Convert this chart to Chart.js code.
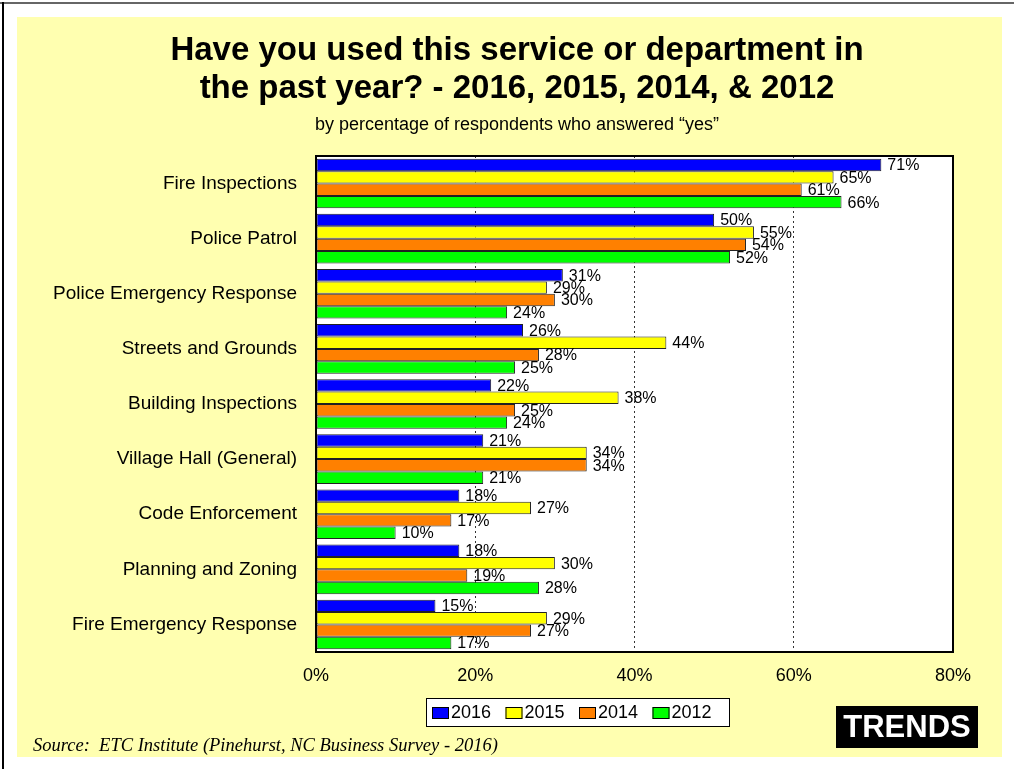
<!DOCTYPE html>
<html>
<head>
<meta charset="utf-8">
<title>Service usage by year</title>
<script src="https://cdn.jsdelivr.net/npm/chart.js@4/dist/chart.umd.min.js"></script>
<style>
  html, body { margin: 0; padding: 0; background: #ffffff; }
  canvas { display: block; }
</style>
</head>
<body>
<canvas id="chart" width="1014" height="769"></canvas>
<script>
// Survey categories (top to bottom)
const categories = [
  "Fire Inspections",
  "Police Patrol",
  "Police Emergency Response",
  "Streets and Grounds",
  "Building Inspections",
  "Village Hall (General)",
  "Code Enforcement",
  "Planning and Zoning",
  "Fire Emergency Response"
];

// Percent of respondents who answered "yes", per survey year
const years = ["2016", "2015", "2014", "2012"];
const values2016 = [71, 50, 31, 26, 22, 21, 18, 18, 15];
const values2015 = [65, 55, 29, 44, 38, 34, 27, 30, 29];
const values2014 = [61, 54, 30, 28, 25, 34, 17, 19, 27];
const values2012 = [66, 52, 24, 25, 24, 21, 10, 28, 17];

// Axis ticks
const xTicks = [0, 20, 40, 60, 80];

const seriesColors = ["#0000FF", "#FFFF00", "#FF8000", "#00FF00"];

const titleLines = [
  "Have you used this service or department in",
  "the past year? - 2016, 2015, 2014, & 2012"
];
const subtitleText = "by percentage of respondents who answered \u201Cyes\u201D";
const sourceText = "Source:  ETC Institute (Pinehurst, NC Business Survey - 2016)";
const badgeText = "TRENDS";

const SANS = "'Liberation Sans', Arial, sans-serif";
const SERIF = "'Liberation Serif', 'Times New Roman', serif";

// Page frame, panel, headings, plot box, value labels, legend, badge and source line
const decorations = {
  id: "decorations",
  beforeDraw(chart) {
    const c = chart.ctx;
    c.save();
    c.fillStyle = "#ffffff";
    c.fillRect(0, 0, chart.width, chart.height);
    // outer frame (top and left edges)
    c.fillStyle = "#666666";
    c.fillRect(0, 2, chart.width, 2);
    c.fillStyle = "#000000";
    c.fillRect(2, 2, 2, chart.height);
    // yellow panel
    c.fillStyle = "#FFFFB0";
    c.fillRect(17, 17, 985, 740);
    // plot area background
    const a = chart.chartArea;
    c.fillStyle = "#ffffff";
    c.fillRect(a.left, a.top, a.right - a.left, a.bottom - a.top);
    // title
    c.fillStyle = "#000000";
    c.textAlign = "center";
    c.textBaseline = "middle";
    c.font = "bold 33px " + SANS;
    c.fillText(titleLines[0], 517, 51);
    c.fillText(titleLines[1], 517, 89);
    c.font = "18px " + SANS;
    c.fillText(subtitleText, 517, 125);
    c.restore();
  },
  afterDraw(chart) {
    const c = chart.ctx;
    const a = chart.chartArea;
    c.save();
    // plot border
    c.strokeStyle = "#000000";
    c.lineWidth = 2;
    c.strokeRect(a.left, a.top, a.right - a.left, a.bottom - a.top);

    // value labels at the bar ends
    c.fillStyle = "#000000";
    c.font = "16px " + SANS;
    c.textAlign = "left";
    c.textBaseline = "middle";
    chart.data.datasets.forEach((ds, di) => {
      const meta = chart.getDatasetMeta(di);
      meta.data.forEach((bar, i) => {
        c.fillText(ds.data[i] + "%", bar.x + 6, bar.y + 1);
      });
    });

    // legend box
    const lx = 426, ly = 698, lw = 303, lh = 28;
    c.fillStyle = "#ffffff";
    c.fillRect(lx, ly, lw, lh);
    c.strokeStyle = "#000000";
    c.lineWidth = 1;
    c.strokeRect(lx + 0.5, ly + 0.5, lw, lh);
    c.font = "18px " + SANS;
    chart.data.datasets.forEach((ds, di) => {
      const x0 = lx + 6 + di * 73.5;
      c.fillStyle = ds.backgroundColor;
      c.fillRect(x0, ly + 9, 17, 12);
      c.strokeStyle = "#000000";
      c.strokeRect(x0 + 0.5, ly + 9.5, 16, 11);
      c.fillStyle = "#000000";
      c.fillText(ds.label, x0 + 19, ly + 15);
    });

    // badge
    c.fillStyle = "#000000";
    c.fillRect(836, 706, 142, 42);
    c.fillStyle = "#ffffff";
    c.font = "bold 31px " + SANS;
    c.textAlign = "center";
    c.fillText(badgeText, 907, 728);

    // source line
    c.fillStyle = "#000000";
    c.font = "italic 18.5px " + SERIF;
    c.textAlign = "left";
    c.textBaseline = "alphabetic";
    c.fillText(sourceText, 33, 751);
    c.restore();
  }
};

const seriesValues = [values2016, values2015, values2014, values2012];

new Chart(document.getElementById("chart"), {
  type: "bar",
  data: {
    labels: categories,
    datasets: years.map((y, i) => ({
      label: y,
      data: seriesValues[i],
      backgroundColor: seriesColors[i],
      borderColor: "#222222",
      borderWidth: 1,
      borderSkipped: false,
      categoryPercentage: 0.9,
      barPercentage: 1.0
    }))
  },
  options: {
    indexAxis: "y",
    responsive: false,
    animation: false,
    devicePixelRatio: 1,
    layout: { padding: { left: 17, right: 61, top: 156, bottom: 60 } },
    plugins: {
      legend: { display: false },
      title: { display: false },
      tooltip: { enabled: false }
    },
    scales: {
      x: {
        min: 0,
        max: 80,
        afterBuildTicks(scale) {
          scale.ticks = xTicks.map(v => ({ value: v }));
        },
        afterFit(scale) { scale.height = 57; },
        ticks: {
          padding: 13,
          color: "#000000",
          font: { family: SANS, size: 18 },
          callback: v => v + "%"
        },
        grid: {
          drawTicks: false,
          lineWidth: 1,
          color: ctx => (ctx.tick && ctx.tick.value > 0 && ctx.tick.value < 80) ? "#333333" : "rgba(0,0,0,0)"
        },
        border: { display: false, dash: [2, 3] }
      },
      y: {
        afterFit(scale) { scale.width = 299; },
        ticks: {
          padding: 19,
          color: "#000000",
          font: { family: SANS, size: 19 }
        },
        grid: { display: false, drawTicks: false },
        border: { display: false }
      }
    }
  },
  plugins: [decorations]
});
</script>
</body>
</html>
